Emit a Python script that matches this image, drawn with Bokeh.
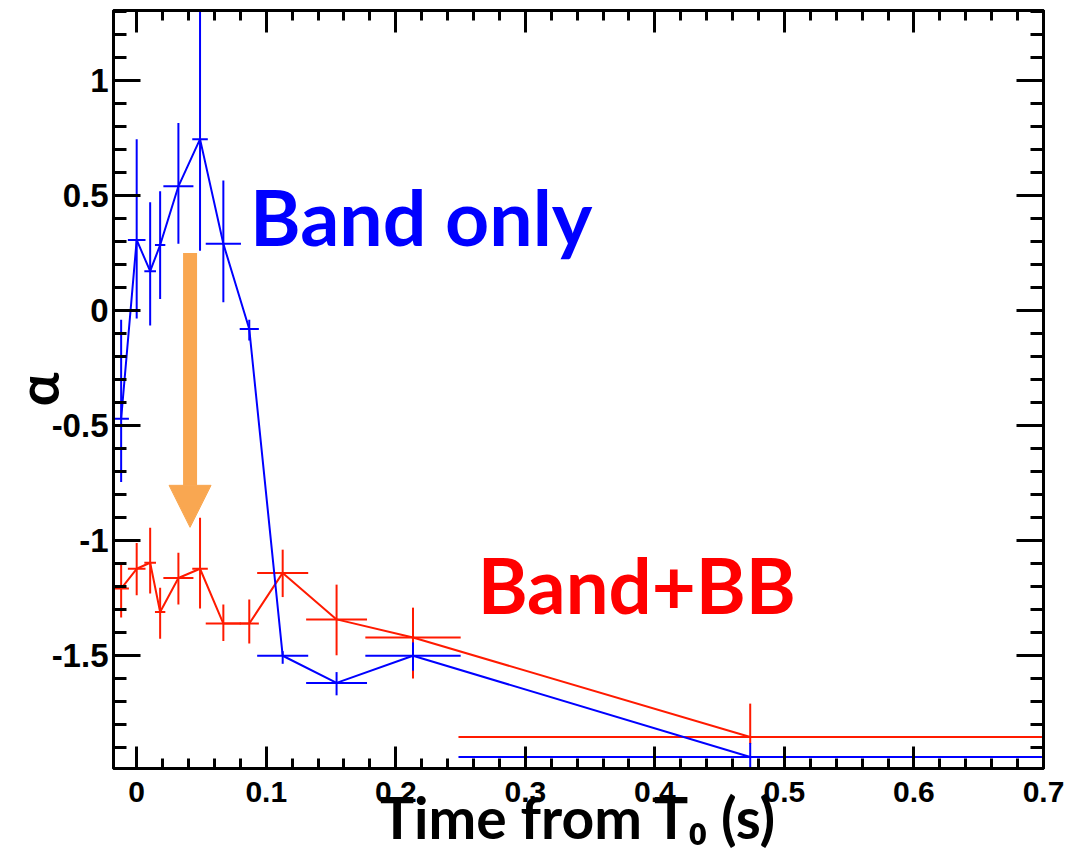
from bokeh.plotting import figure
from bokeh.models import (ColumnDataSource, LinearAxis, FixedTicker, Label,
                          Arrow, NormalHead, Range1d)
from bokeh.embed import file_html
from bokeh.resources import INLINE

# ---------------- data ----------------
# time bins (s from T0): centre and half width
time_center = [-0.012, 0.0, 0.0104, 0.0181, 0.0322, 0.0489, 0.0669, 0.0869,
               0.1127, 0.1543, 0.2133, 0.4736]
time_halfwidth = [0.006, 0.0068, 0.0045, 0.004, 0.0116, 0.006, 0.0136, 0.0074,
                  0.0197, 0.0235, 0.0368, 0.2252]

# "Band only" fit: alpha and asymmetric errors
alpha_band = [-0.47, 0.307, 0.171, 0.285, 0.54, 0.745, 0.29, -0.08,
              -1.5, -1.618, -1.5, -1.94]
alpha_band_err_low = [0.275, 0.342, 0.236, 0.235, 0.25, 0.485, 0.254, 0.05,
                      0.035, 0.054, 0.065, 0.06]
alpha_band_err_high = [0.43, 0.438, 0.3, 0.233, 0.275, 0.6, 0.275, 0.04,
                       0.02, 0.047, 0.058, 0.061]

# "Band+BB" fit
alpha_bb = [-1.208, -1.122, -1.096, -1.31, -1.162, -1.122, -1.36, -1.36,
            -1.14, -1.342, -1.421, -1.853]
alpha_bb_err_low = [0.126, 0.115, 0.134, 0.116, 0.115, 0.173, 0.076, 0.087,
                    0.105, 0.156, 0.178, 0.03]
alpha_bb_err_high = [0.115, 0.112, 0.152, 0.106, 0.11, 0.222, 0.083, 0.104,
                     0.101, 0.151, 0.13, 0.145]

x_ticks = [0, 0.1, 0.2, 0.3, 0.4, 0.5, 0.6, 0.7]
x_tick_labels = ["0", "0.1", "0.2", "0.3", "0.4", "0.5", "0.6", "0.7"]
y_ticks = [-1.5, -1, -0.5, 0, 0.5, 1]
y_tick_labels = ["-1.5", "-1", "-0.5", "0", "0.5", "1"]

x_minor = [round(-0.02 + 0.02 * i, 2) for i in range(37)]
y_minor = [round(-2.0 + 0.1 * i, 1) for i in range(34)]

x_title = "Time from T\u2080 (s)"
y_title = "α"

BLUE = "#0000ff"
RED = "#ff1a00"
ORANGE = "#f9a751"

# ---------------- figure ----------------
p = figure(width=1065, height=858,
           x_range=Range1d(-0.0179, 0.7), y_range=Range1d(-1.99, 1.304),
           output_backend="svg", toolbar_location=None,
           x_axis_location=None, y_axis_location=None,
           min_border_left=113, min_border_right=22,
           min_border_top=10, min_border_bottom=90)
p.xgrid.grid_line_color = None
p.ygrid.grid_line_color = None
p.outline_line_color = "black"
p.outline_line_width = 3
p.background_fill_color = "white"
p.border_fill_color = "white"


def make_axis(ticks, minor, labels, tick_in, minor_in, show, size, standoff):
    ax = LinearAxis(ticker=FixedTicker(ticks=ticks, minor_ticks=minor))
    ax.axis_line_width = 3
    ax.axis_line_color = "black"
    ax.major_tick_in = tick_in
    ax.major_tick_out = 0
    ax.minor_tick_in = minor_in
    ax.minor_tick_out = 0
    ax.major_tick_line_width = 3
    ax.minor_tick_line_width = 3
    ax.major_tick_line_color = "black"
    ax.minor_tick_line_color = "black"
    if show:
        ax.major_label_overrides = {t: l for t, l in zip(ticks, labels)}
        ax.major_label_text_font = "Liberation Sans"
        ax.major_label_text_font_style = "bold"
        ax.major_label_text_font_size = size
        ax.major_label_text_color = "black"
        ax.major_label_standoff = standoff
    else:
        ax.major_label_overrides = {t: "" for t in ticks}
        ax.major_label_text_font_size = "1px"
        ax.major_label_standoff = 0
    return ax


xax = make_axis(x_ticks, x_minor, x_tick_labels, 22, 10, True, "30px", 13)
xax.axis_label = x_title
xax.axis_label_text_font = "Lato"
xax.axis_label_text_font_style = "bold"
xax.axis_label_text_font_size = "57px"
xax.axis_label_text_color = "black"
xax.axis_label_standoff = -22
p.add_layout(xax, "below")
p.add_layout(make_axis(x_ticks, x_minor, x_tick_labels, 22, 10, False, "1px", 0), "above")

yax = make_axis(y_ticks, y_minor, y_tick_labels, 27, 13, True, "33px", 5)
yax.axis_label = y_title
yax.axis_label_text_font = "Lato"
yax.axis_label_text_font_style = "bold"
yax.axis_label_text_font_size = "56px"
yax.axis_label_text_color = "black"
yax.axis_label_standoff = -22
p.add_layout(yax, "left")
p.add_layout(make_axis(y_ticks, y_minor, y_tick_labels, 27, 13, False, "1px", 0), "right")


def series(vals, lo, hi):
    return ColumnDataSource(dict(
        t=time_center,
        a=vals,
        t_lo=[t - w for t, w in zip(time_center, time_halfwidth)],
        t_hi=[t + w for t, w in zip(time_center, time_halfwidth)],
        a_lo=[v - e for v, e in zip(vals, lo)],
        a_hi=[v + e for v, e in zip(vals, hi)],
    ))


for vals, lo, hi, col in [(alpha_bb, alpha_bb_err_low, alpha_bb_err_high, RED),
                          (alpha_band, alpha_band_err_low, alpha_band_err_high, BLUE)]:
    src = series(vals, lo, hi)
    p.line("t", "a", source=src, line_color=col, line_width=2)
    p.segment(x0="t_lo", y0="a", x1="t_hi", y1="a", source=src,
              line_color=col, line_width=2)
    p.segment(x0="t", y0="a_lo", x1="t", y1="a_hi", source=src,
              line_color=col, line_width=2)

# orange arrow
arrow_x = 0.0412
arrow_y_start = 0.25
arrow_y_end = -0.942
p.add_layout(Arrow(x_start=arrow_x, y_start=arrow_y_start,
                   x_end=arrow_x, y_end=arrow_y_end,
                   line_color=ORANGE, line_width=14,
                   end=NormalHead(size=42, fill_color=ORANGE,
                                  line_color=ORANGE, line_width=1)))

# in-plot texts
p.add_layout(Label(x=0.0875, y=0.412, text="Band only", text_color=BLUE,
                   text_font="Lato", text_font_style="bold",
                   text_font_size="77px", text_baseline="alphabetic"))
p.add_layout(Label(x=0.2632, y=-1.189, text="Band+BB", text_color="#ff0000",
                   text_font="Lato", text_font_style="bold",
                   text_font_size="76px", text_baseline="alphabetic"))

open("out.html", "w").write(file_html(p, INLINE))
